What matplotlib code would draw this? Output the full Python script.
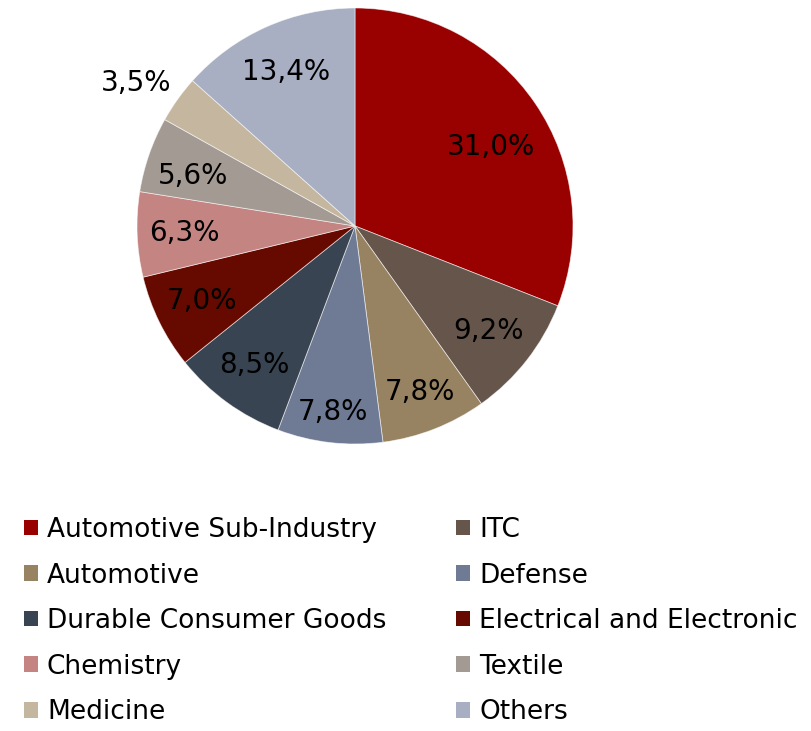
import matplotlib
matplotlib.use("Agg")
import matplotlib.pyplot as plt
from matplotlib.patches import Patch
import numpy as np

categories = ["Automotive Sub-Industry", "ITC", "Automotive", "Defense",
              "Durable Consumer Goods", "Electrical and Electronic",
              "Chemistry", "Textile", "Medicine", "Others"]
shares = [31.0, 9.2, 7.8, 7.8, 8.5, 7.0, 6.3, 5.6, 3.5, 13.4]
colors = ["#990000", "#65554B", "#978261", "#6F7B94", "#394452",
          "#660A00", "#C48482", "#A39A94", "#C5B6A0", "#A8AFC2"]
# label placement: radial distance (in radii) and angular nudge (degrees)
label_dist = [0.72, 0.78, 0.82, 0.86, 0.79, 0.78, 0.785, 0.777, 1.20, 0.775]
label_nudge = [-4, 0, 0, 0, 0, 0, 0, 2, 2.5, 0]

plt.rcParams["font.family"] = ["DejaVu Sans"]

W, H = 811, 731
fig = plt.figure(figsize=(W / 100, H / 100), dpi=100)
cx, cy, r = 355, 226, 218
ax = fig.add_axes([(cx - r) / W, 1 - (cy + r) / H, 2 * r / W, 2 * r / H])

wedges, _ = ax.pie(shares, colors=colors, startangle=90, counterclock=False,
                   wedgeprops=dict(edgecolor=(1, 1, 1, 0.6), linewidth=0.6))
ax.set_xlim(-1, 1)
ax.set_ylim(-1, 1)
ax.set_aspect("equal")

for w, v, d, n in zip(wedges, shares, label_dist, label_nudge):
    ang = np.deg2rad((w.theta1 + w.theta2) / 2 + n)
    ax.text(d * np.cos(ang), d * np.sin(ang), f"{v:.1f}%".replace(".", ","),
            ha="center", va="center", fontsize=20, color="black")

# legend laid out row by row in two columns
order = [0, 2, 4, 6, 8, 1, 3, 5, 7, 9]
handles = [Patch(facecolor=colors[i], edgecolor="none") for i in order]
labels = [categories[i] for i in order]
fig.legend(handles, labels, ncol=2, loc="upper left",
           bbox_to_anchor=(24 / W, 1 - 517 / H), frameon=False, fontsize=19,
           handlelength=0.53, handleheight=0.53, handletextpad=0.34,
           columnspacing=2.65, labelspacing=0.74, borderpad=0, borderaxespad=0)

fig.savefig("out.png", dpi=100)
